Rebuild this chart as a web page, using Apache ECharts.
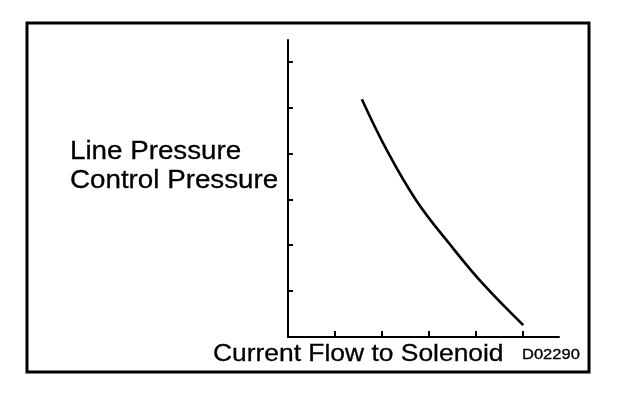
<!DOCTYPE html>
<html>
<head>
<meta charset="utf-8">
<script src="https://cdn.jsdelivr.net/npm/echarts@6/dist/echarts.min.js"></script>
<style>
  html, body { margin: 0; padding: 0; background: #fff; }
  #chart { width: 624px; height: 398px; }
</style>
</head>
<body>
<div id="chart"></div>
<script>
// Curve (units = tick steps, no scale numbers shown)
const currentFlow = [1.57, 2.10, 2.73, 3.44, 4.15, 5.00];
const pressure    = [5.18, 4.07, 2.97, 2.02, 1.15, 0.26];

const xTicks = [1, 2, 3, 4, 5];
const yTicks = [1, 2, 3, 4, 5, 6];

const yTitleLines = ['Line Pressure', 'Control Pressure'];
const xTitle = 'Current Flow to Solenoid';
const figureCode = 'D02290';

const FONT = '"Liberation Sans", Arial, sans-serif';

function initChart() {
    const el = document.getElementById('chart');
    const chart = echarts.init(el, null, { renderer: 'canvas' });

    const axisCommon = {
        type: 'value',
        min: 0,
        interval: 1,
        axisLine: { show: true, onZero: false, lineStyle: { color: '#000', width: 2 } },
        axisLabel: { show: false },
        splitLine: { show: false }
    };

    // scanned text looks a bit heavy, so give it a thin outline
    const textStyle = (text, size) => ({
        text: text,
        font: size + 'px ' + FONT,
        fill: '#000',
        stroke: '#000',
        lineWidth: 0.3,
        verticalAlign: 'middle'
    });

    const option = {
        animation: false,
        backgroundColor: '#fff',
        grid: { left: 288, right: 65, top: 40, bottom: 61 },
        xAxis: Object.assign({}, axisCommon, {
            max: 5.76,
            axisTick: {
                show: true, inside: true, length: 6,
                customValues: xTicks,
                lineStyle: { color: '#000', width: 2 }
            }
        }),
        yAxis: Object.assign({}, axisCommon, {
            max: 6.47,
            axisTick: {
                show: true, inside: true, length: 5,
                customValues: yTicks,
                lineStyle: { color: '#000', width: 2 }
            }
        }),
        series: [{
            type: 'line',
            data: currentFlow.map((x, i) => [x, pressure[i]]),
            smooth: 0.4,
            showSymbol: false,
            lineStyle: { color: '#000', width: 2.6 }
        }],
        graphic: [
            {
                type: 'rect',
                shape: { x: 27, y: 23, width: 562, height: 349 },
                style: { fill: 'none', stroke: '#000', lineWidth: 3 }
            },
            { type: 'text', x: 70, y: 152, scaleX: 1.11, style: textStyle(yTitleLines[0], 25) },
            { type: 'text', x: 70, y: 181, scaleX: 1.11, style: textStyle(yTitleLines[1], 25) },
            { type: 'text', x: 213, y: 354, scaleX: 1.1, style: textStyle(xTitle, 24) },
            { type: 'text', x: 522, y: 355, scaleX: 1.18, style: textStyle(figureCode, 14) }
        ]
    };

    chart.setOption(option);
}

initChart();
</script>
</body>
</html>
